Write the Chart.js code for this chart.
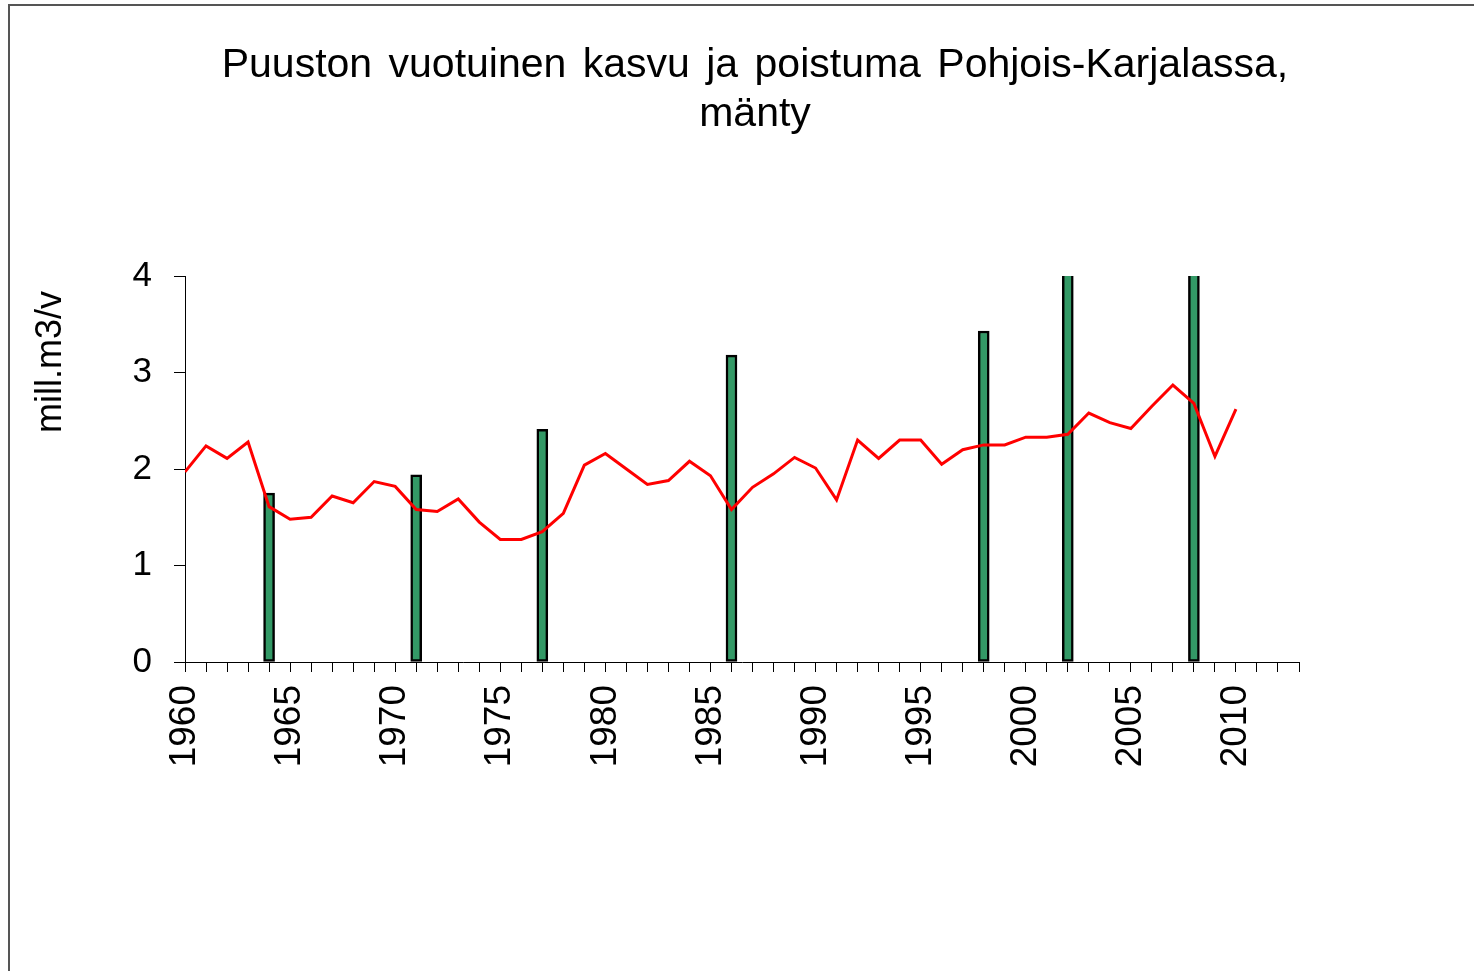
<!DOCTYPE html>
<html>
<head>
<meta charset="utf-8">
<script src="https://cdn.jsdelivr.net/npm/chart.js@4"></script>
<style>
  html, body { margin: 0; padding: 0; background: #fff; }
  body { width: 1474px; height: 971px; position: relative; overflow: hidden; font-family: "Liberation Sans", Arial, sans-serif; }
  #frame { position: absolute; left: 8px; top: 4px; width: 2000px; height: 2000px; border-top: 2px solid #555; border-left: 2px solid #555; }
  #wrap { position: absolute; left: 0; top: 0; width: 1474px; height: 971px; }
  #title { position: absolute; left: 36px; width: 1438px; top: 39px; text-align: center; font-size: 41px; line-height: 49px; word-spacing: 5px; color: #000; }
  #ylabel { position: absolute; left: 49px; top: 362px; font-size: 36px; color: #000; transform: translate(-50%, -50%) rotate(-90deg); white-space: nowrap; }
</style>
</head>
<body>
<div id="frame"></div>
<div id="wrap"><canvas id="chart"></canvas></div>
<div id="title">Puuston vuotuinen kasvu ja poistuma Pohjois-Karjalassa,<br>mänty</div>
<div id="ylabel">mill.m3/v</div>
<script>
// kasvu (line), one value per year 1960..2010
const lineYears = [];
for (let y = 1960; y <= 2010; y++) lineYears.push(y);
const growth = [
  1.97, 2.24, 2.11, 2.28, 1.61, 1.48, 1.50, 1.72, 1.65, 1.87,
  1.82, 1.58, 1.56, 1.69, 1.45, 1.27, 1.27, 1.35, 1.54, 2.04,
  2.16, 2.00, 1.84, 1.88, 2.08, 1.93, 1.58, 1.81, 1.95, 2.12,
  2.01, 1.68, 2.30, 2.11, 2.30, 2.30, 2.05, 2.20, 2.25, 2.25,
  2.33, 2.33, 2.36, 2.58, 2.48, 2.42, 2.65, 2.87, 2.68, 2.13,
  2.62
];

// poistuma (bars), inventory years only
const barYears = [1964, 1971, 1977, 1986, 1998, 2002, 2008];
const removal = [1.75, 1.94, 2.41, 3.18, 3.43, 4.3, 4.5];

const font = "'Liberation Sans', Arial, sans-serif";

new Chart(document.getElementById("chart"), {
  type: "bar",
  data: {
    datasets: [
      {
        type: "line",
        label: "kasvu",
        data: lineYears.map((y, i) => ({ x: y, y: growth[i] })),
        borderColor: "#ff0000",
        borderWidth: 3,
        tension: 0,
        pointRadius: 0,
        order: 0
      },
      {
        type: "bar",
        label: "poistuma",
        data: barYears.map((y, i) => ({ x: y, y: removal[i] })),
        backgroundColor: "#339966",
        borderColor: "#000",
        borderWidth: 2.5,
        borderSkipped: false,
        barThickness: 11,
        clip: 0,
        order: 1
      }
    ]
  },
  options: {
    responsive: true,
    maintainAspectRatio: false,
    animation: false,
    layout: { padding: { top: 276, left: 0, right: 175, bottom: 0 } },
    plugins: { legend: { display: false }, tooltip: { enabled: false } },
    scales: {
      x: {
        type: "linear",
        min: 1960,
        max: 2013,
        offset: false,
        afterFit: s => { s.height = 309; },
        grid: { drawOnChartArea: false, offset: false, tickLength: 10, color: "#000", tickColor: "#000" },
        border: { color: "#000", width: 1 },
        ticks: {
          stepSize: 1,
          autoSkip: false,
          minRotation: 90,
          maxRotation: 90,
          padding: 13,
          color: "#000",
          font: { family: font, size: 37 },
          callback: v => (v % 5 === 0 ? String(v) : "")
        }
      },
      y: {
        min: 0,
        max: 4,
        afterFit: s => { s.width = 185; },
        grid: { drawOnChartArea: false, tickLength: 11, color: "#000", tickColor: "#000" },
        border: { color: "#000", width: 1 },
        ticks: {
          stepSize: 1,
          padding: 22,
          color: "#000",
          font: { family: font, size: 35 }
        }
      }
    }
  }
});
</script>
</body>
</html>
